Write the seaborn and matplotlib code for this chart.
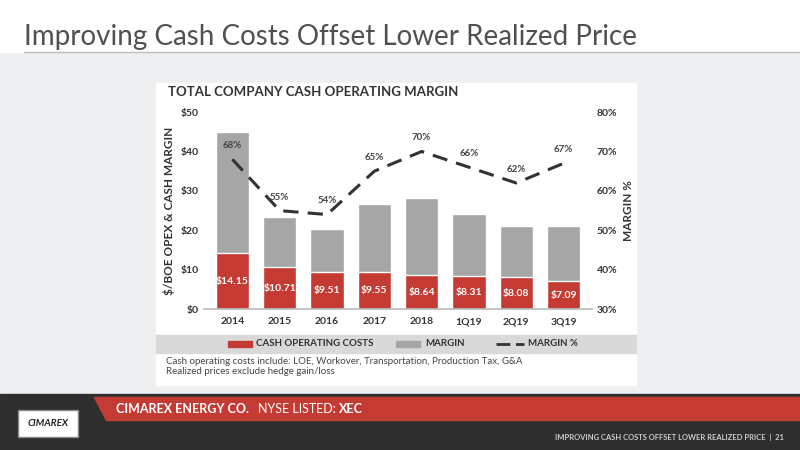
import matplotlib
matplotlib.use("Agg")
import matplotlib.pyplot as plt
import seaborn as sns
import pandas as pd
import numpy as np
from matplotlib.patches import Rectangle, Polygon

sns.set_theme(style="white")
plt.rcParams['font.family'] = ['Lato', 'DejaVu Sans']

periods = ["2014", "2015", "2016", "2017", "2018", "1Q19", "2Q19", "3Q19"]
cash_costs = [14.15, 10.71, 9.51, 9.55, 8.64, 8.31, 8.08, 7.09]
totals = [44.9, 23.4, 20.3, 26.6, 28.2, 24.1, 21.1, 21.1]
margin_pct = [68, 55, 54, 65, 70, 66, 62, 67]

RED = "#c43b33"
GRAY = "#a6a6a6"

fig = plt.figure(figsize=(8, 4.5), dpi=100)
fig.patch.set_facecolor("white")

fig.add_artist(Rectangle((0, 0.11), 1, 0.78, transform=fig.transFigure, color="#eeeff0", zorder=-5))
fig.add_artist(Rectangle((0, 0.885), 1, 0.115, transform=fig.transFigure, color="white", zorder=-4))
fig.add_artist(plt.Line2D([0.03, 1], [0.885, 0.885], transform=fig.transFigure, color="#bbbbbb", lw=1))
fig.text(0.03, 0.9, "Improving Cash Costs Offset Lower Realized Price", fontsize=20, color="#505050")
fig.add_artist(Rectangle((0.195, 0.145), 0.6, 0.67, transform=fig.transFigure, color="white", zorder=-3))
# footer
fig.add_artist(Rectangle((0, 0), 1, 0.125, transform=fig.transFigure, color="#2e2e2e", zorder=-2))
fig.add_artist(Polygon([(0.118, 0.118), (1, 0.118), (1, 0.067), (0.132, 0.067)], closed=True,
                       transform=fig.transFigure, color=RED, zorder=-1))
fig.text(0.145, 0.082, "CIMAREX ENERGY CO.", fontsize=9, color="white", weight="bold")
fig.text(0.323, 0.082, "NYSE LISTED:", fontsize=9, color="white")
fig.text(0.424, 0.082, "XEC", fontsize=9, color="white", weight="bold")
fig.text(0.98, 0.022, "IMPROVING CASH COSTS OFFSET LOWER REALIZED PRICE  |  21", fontsize=5.5,
         color="#cccccc", ha="right", weight="bold")
fig.add_artist(Rectangle((0.022, 0.03), 0.076, 0.06, transform=fig.transFigure, facecolor="white",
                         edgecolor="#888888", zorder=0))
fig.text(0.06, 0.058, "CIMAREX", fontsize=7, color="#222222", ha="center", va="center",
         style="italic", weight="bold")

ax = fig.add_axes([0.255, 0.313, 0.485, 0.438])
df = pd.DataFrame({"period": periods, "total": totals, "cost": cash_costs})
sns.barplot(data=df, x="period", y="total", color=GRAY, width=0.7, ax=ax, saturation=1)
sns.barplot(data=df, x="period", y="cost", color=RED, width=0.7, ax=ax, saturation=1)
for i, c in enumerate(cash_costs):
    ax.text(i, c / 2, f"${c:.2f}", ha="center", va="center", color="white", fontsize=7.5, weight="bold")
ax.set_ylim(0, 50)
ax.set_yticks(range(0, 51, 10))
ax.set_yticklabels([f"${v}" for v in range(0, 51, 10)], fontsize=7.5, weight="bold", color="#333333")
ax.set_xlabel("")
ax.set_ylabel("$/BOE OPEX & CASH MARGIN", fontsize=8.5, weight="bold", color="#333333")
ax.tick_params(axis="x", labelsize=7.5, length=0, pad=6)
for t in ax.get_xticklabels():
    t.set_weight("bold"); t.set_color("#333333")
for s in ax.spines.values():
    s.set_visible(False)
ax.spines["bottom"].set_visible(True)
ax.spines["bottom"].set_color("#bbbbbb")

ax2 = ax.twinx()
sns.lineplot(x=np.arange(len(periods)), y=margin_pct, ax=ax2, color="#333333", lw=2.2,
             linestyle=(0, (5, 3)))
for i, m in enumerate(margin_pct):
    ax2.text(i, m + 2.3, f"{m}%", ha="center", va="bottom", fontsize=7, weight="bold", color="#444444")
ax2.set_ylim(30, 80)
ax2.set_yticks(range(30, 81, 10))
ax2.set_yticklabels([f"{v}%" for v in range(30, 81, 10)], fontsize=7.5, weight="bold", color="#333333")
ax2.set_ylabel("MARGIN %", fontsize=8.5, weight="bold", color="#333333")
for s in ax2.spines.values():
    s.set_visible(False)
ax2.tick_params(length=0)
ax.tick_params(axis="y", length=0)
ax.set_xlim(-0.6, 7.6)

fig.text(0.21, 0.786, "TOTAL COMPANY CASH OPERATING MARGIN", fontsize=9.5, weight="bold", color="#333333")

fig.add_artist(Rectangle((0.195, 0.215), 0.6, 0.04, transform=fig.transFigure, color="#d9d9d9", zorder=-2))
fig.add_artist(Rectangle((0.285, 0.23), 0.03, 0.012, transform=fig.transFigure, color=RED))
fig.text(0.32, 0.236, "CASH OPERATING COSTS", fontsize=7, weight="bold", color="#333333", va="center")
fig.add_artist(Rectangle((0.495, 0.23), 0.03, 0.012, transform=fig.transFigure, color=GRAY))
fig.text(0.532, 0.236, "MARGIN", fontsize=7, weight="bold", color="#333333", va="center")
fig.add_artist(plt.Line2D([0.62, 0.655], [0.236, 0.236], transform=fig.transFigure, color="#333333",
                          lw=2, linestyle=(0, (5, 2))))
fig.text(0.66, 0.236, "MARGIN %", fontsize=7, weight="bold", color="#333333", va="center")

fig.text(0.208, 0.192, "Cash operating costs include: LOE, Workover, Transportation, Production Tax, G&A",
         fontsize=7, color="#444444")
fig.text(0.208, 0.168, "Realized prices exclude hedge gain/loss", fontsize=7, color="#444444")

fig.savefig("out.png", dpi=100)
